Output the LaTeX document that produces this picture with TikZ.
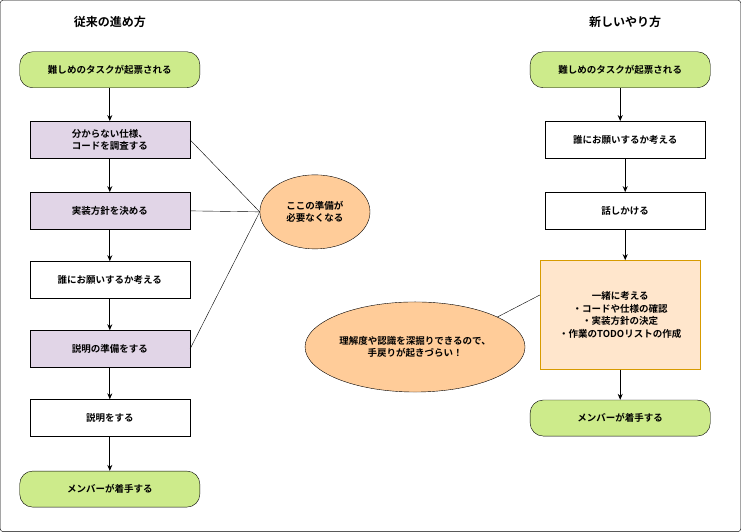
\documentclass[tikz,border=0pt]{standalone}
\usepackage{fontspec}
\setmainfont{Noto Sans CJK JP}[BoldFont={* Bold}]
\usetikzlibrary{shapes.geometric,arrows.meta}
\definecolor{gfill}{HTML}{CDEB8B}
\definecolor{pfill}{HTML}{E1D5E7}
\definecolor{ofill}{HTML}{FFCC99}
\definecolor{bfill}{HTML}{FFE6CC}
\definecolor{bstroke}{HTML}{D79B00}
\begin{document}
\begin{tikzpicture}[x=1pt,y=-1pt,
 base/.style={draw=black,font=\fontsize{9.5}{12.5}\selectfont\bfseries,align=center,inner sep=2pt},
 term/.style={base,fill=gfill,rounded corners=13pt,minimum width=180pt,minimum height=36pt},
 box/.style={base,fill=white,minimum width=160pt,minimum height=37pt},
 pbox/.style={box,fill=pfill},
 ell/.style={base,ellipse,fill=ofill},
 arr/.style={-{Stealth[length=6pt,width=5pt]},thick},
 ln/.style={draw=black}]
\draw[fill=white,rounded corners=3pt] (0.5,0.5) rectangle (740.5,531.5);
\node[font=\fontsize{12}{14}\selectfont\bfseries] (t1) at (110,22) {従来の進め方};
\node[font=\fontsize{12}{14}\selectfont\bfseries] (t2) at (625,22) {新しいやり方};
% left
\node[term] (a0) at (110,70) {難しめのタスクが起票される};
\node[pbox] (a1) at (110,140) {分からない仕様、\\コードを調査する};
\node[pbox] (a2) at (110,211) {実装方針を決める};
\node[box] (a3) at (110,280) {誰にお願いするか考える};
\node[pbox] (a4) at (110,349) {説明の準備をする};
\node[box] (a5) at (110,418) {説明をする};
\node[term] (a6) at (110,489) {メンバーが着手する};
\foreach \p/\q in {a0/a1,a1/a2,a2/a3,a3/a4,a4/a5,a5/a6} \draw[arr] (\p) -- (\q);
\node[ell,minimum width=110pt,minimum height=74pt] (e1) at (315,212) {ここの準備が\\必要なくなる};
\draw[ln] (a1.east) -- (e1.west);
\draw[ln] (a2.east) -- (e1.west);
\draw[ln] (a4.east) -- (e1.west);
% right
\node[term] (b0) at (620,70) {難しめのタスクが起票される};
\node[box] (b1) at (625,140) {誰にお願いするか考える};
\node[box] (b2) at (625,211) {話しかける};
\node[base,fill=bfill,draw=bstroke,minimum width=160pt,minimum height=109pt] (b3) at (620,315) {一緒に考える\\・コードや仕様の確認\\・実装方針の決定\\・作業のTODOリストの作成};
\node[term] (b4) at (620,418) {メンバーが着手する};
\draw[arr] (b0) -- (b0|-b1.north);
\draw[arr] (b1) -- (b2);
\draw[arr] (b2) -- (b2|-b3.north);
\draw[arr] (b3) -- (b4);
\node[ell,minimum width=216pt,minimum height=90pt] (e2) at (415,347) {理解度や認識を深掘りできるので、\\手戻りが起きづらい！};
\coordinate (bj) at ([yshift=20pt]b3.west);
\draw[ln] (e2.20) -- (bj);
\end{tikzpicture}
\end{document}
